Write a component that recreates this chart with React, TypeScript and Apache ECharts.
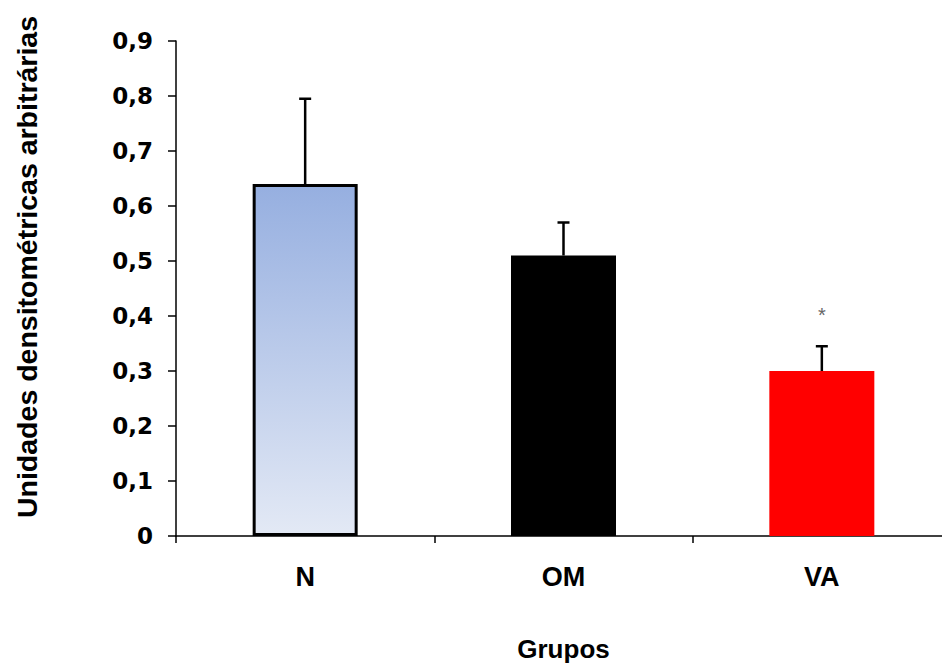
import React, { useEffect, useRef } from "react";
import * as echarts from "echarts";

const categories = ["N", "OM", "VA"];
const means = [0.64, 0.51, 0.3];
const errors = [0.155, 0.06, 0.045];
const marks = ["", "", "*"];
const yTicks = { min: 0, max: 0.9, interval: 0.1 };
const yTitle = "Unidades densitométricas arbitrárias";
const xTitle = "Grupos";

export default function App() {
  const ref = useRef<HTMLDivElement>(null);
  useEffect(() => {
    document.body.style.margin = "0";
    const chart = echarts.init(ref.current!, null, { renderer: "svg" });
    const barColors: any[] = [
      new echarts.graphic.LinearGradient(0, 0, 0, 1, [
        { offset: 0, color: "#96AFE0" },
        { offset: 1, color: "#E3E9F5" },
      ]),
      "#000000",
      "#FF0000",
    ];
    const arialBold = {
      fontFamily: "Liberation Sans",
      fontWeight: "bold" as const,
      color: "#000",
    };
    chart.setOption({
      animation: false,
      backgroundColor: "#ffffff",
      grid: { left: 176, top: 41, width: 775, height: 495, containLabel: false },
      xAxis: {
        type: "category",
        data: categories,
        name: xTitle,
        nameLocation: "middle",
        nameGap: 100,
        nameTextStyle: { ...arialBold, fontSize: 26 },
        axisLine: { lineStyle: { color: "#000", width: 1.5 } },
        axisTick: { show: true, length: 7, lineStyle: { color: "#000", width: 1.5 } },
        axisLabel: { ...arialBold, fontSize: 27, margin: 27 },
        splitLine: { show: false },
      },
      yAxis: {
        type: "value",
        min: yTicks.min,
        max: yTicks.max,
        interval: yTicks.interval,
        axisLine: { show: true, lineStyle: { color: "#000", width: 1.5 } },
        axisTick: { show: true, length: 8, lineStyle: { color: "#000", width: 1.5 } },
        axisLabel: {
          fontFamily: "DejaVu Sans",
          fontWeight: "bold",
          color: "#000",
          fontSize: 23,
          margin: 23,
          formatter: (v: number) => (v === 0 ? "0" : v.toFixed(1).replace(".", ",")),
        },
        splitLine: { show: false },
      },
      graphic: [
        {
          type: "text",
          x: 27,
          y: 267,
          rotation: Math.PI / 2,
          style: {
            text: yTitle,
            fontFamily: "Liberation Sans",
            fontWeight: "bold",
            fontSize: 28.5,
            fill: "#000",
            textAlign: "center",
            textVerticalAlign: "middle",
          },
        },
      ],
      series: [
        {
          type: "bar",
          barWidth: 105,
          data: means.map((v, i) => ({
            value: v,
            itemStyle: {
              color: barColors[i],
              borderColor: i === 2 ? "#FF0000" : "#000",
              borderWidth: i === 0 ? 3 : 0,
            },
          })),
          z: 2,
        },
        {
          type: "custom",
          z: 5,
          data: means.map((m, i) => [i, m, errors[i]]),
          renderItem: (params: any, api: any) => {
            const i = api.value(0);
            const m = api.value(1);
            const e = api.value(2);
            const p0 = api.coord([i, m]);
            const p1 = api.coord([i, m + e]);
            const cap = 6;
            const children: any[] = [
              {
                type: "line",
                shape: { x1: p0[0], y1: p0[1], x2: p1[0], y2: p1[1] },
                style: { stroke: "#000", lineWidth: 2.5 },
              },
              {
                type: "line",
                shape: { x1: p1[0] - cap, y1: p1[1], x2: p1[0] + cap, y2: p1[1] },
                style: { stroke: "#000", lineWidth: 2.5 },
              },
            ];
            const mk = marks[params.dataIndex];
            if (mk) {
              children.push({
                type: "text",
                x: p1[0],
                y: p1[1] - 31,
                style: {
                  text: mk,
                  fontFamily: "Liberation Sans",
                  fontSize: 20,
                  fill: "#666",
                  textAlign: "center",
                  textVerticalAlign: "middle",
                },
              });
            }
            return { type: "group", children };
          },
        },
      ],
    });
    return () => chart.dispose();
  }, []);
  return (
    <div style={{ position: "absolute", left: 0, top: 0, width: 942, height: 668, overflow: "hidden" }}>
      <div ref={ref} style={{ width: 960, height: 668 }} />
    </div>
  );
}
